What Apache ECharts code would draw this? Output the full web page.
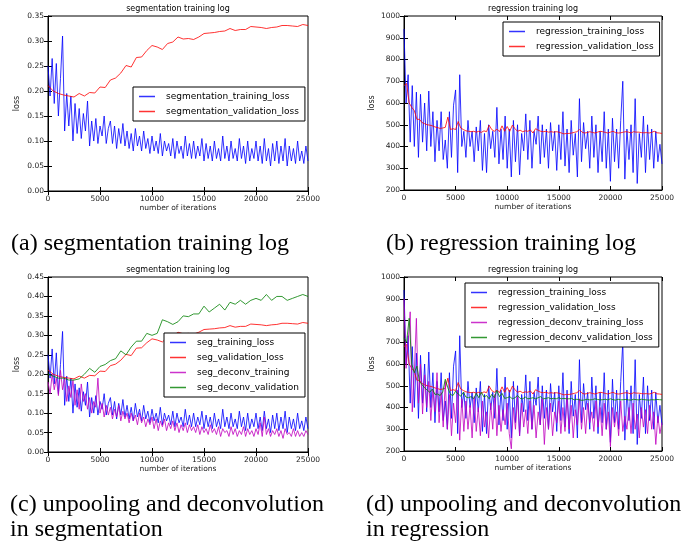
<!DOCTYPE html>
<html>
<head>
<meta charset="utf-8">
<script src="https://cdn.jsdelivr.net/npm/echarts@6/dist/echarts.min.js"></script>
<style>
  html, body { margin: 0; padding: 0; background: #fff; }
  #chart { width: 696px; height: 542px; }
</style>
</head>
<body>
<div id="chart"></div>
<script>
// sampled every 200 iterations
const trainStep = 200
// validation curves: seg every 500, regression every 250
const segValStep = 500
const regValStep = 250

const segTrain = [
  0.25, 0.19, 0.265, 0.175, 0.255, 0.15, 0.225, 0.31, 0.12, 0.195,
  0.13, 0.19, 0.10, 0.175, 0.115, 0.165, 0.105, 0.155, 0.12, 0.18,
  0.09, 0.14, 0.10, 0.145, 0.095, 0.13, 0.11, 0.15, 0.095, 0.125,
  0.14, 0.095, 0.13, 0.085, 0.125, 0.095, 0.135, 0.09, 0.12, 0.085,
  0.115, 0.08, 0.125, 0.09, 0.11, 0.08, 0.12, 0.085, 0.105, 0.075,
  0.11, 0.08, 0.10, 0.075, 0.115, 0.07, 0.10, 0.08, 0.095, 0.07,
  0.105, 0.065, 0.10, 0.075, 0.09, 0.065, 0.11, 0.07, 0.095, 0.065,
  0.10, 0.065, 0.09, 0.07, 0.105, 0.06, 0.095, 0.065, 0.09, 0.06,
  0.10, 0.065, 0.085, 0.06, 0.11, 0.065, 0.09, 0.06, 0.10, 0.065,
  0.085, 0.06, 0.105, 0.065, 0.09, 0.055, 0.10, 0.06, 0.085, 0.065,
  0.10, 0.06, 0.09, 0.055, 0.105, 0.06, 0.085, 0.05, 0.095, 0.06,
  0.10, 0.055, 0.09, 0.06, 0.105, 0.05, 0.09, 0.06, 0.085, 0.055,
  0.10, 0.06, 0.08, 0.055, 0.09, 0.06
]

const segVal = [
  0.211, 0.200, 0.195, 0.192, 0.190, 0.188, 0.195, 0.190, 0.197, 0.196,
  0.208, 0.207, 0.222, 0.226, 0.236, 0.251, 0.248, 0.267, 0.268, 0.281,
  0.291, 0.288, 0.283, 0.295, 0.298, 0.308, 0.304, 0.305, 0.303, 0.308,
  0.315, 0.316, 0.317, 0.319, 0.320, 0.325, 0.321, 0.323, 0.323, 0.329,
  0.328, 0.327, 0.325, 0.327, 0.328, 0.331, 0.331, 0.330, 0.329, 0.333,
  0.331
]

const segDeconvTrain = [
  0.18, 0.15, 0.20, 0.16, 0.19, 0.145, 0.21, 0.16, 0.19, 0.13,
  0.17, 0.14, 0.185, 0.12, 0.16, 0.11, 0.175, 0.13, 0.15, 0.11,
  0.14, 0.10, 0.13, 0.115, 0.19, 0.10, 0.125, 0.09, 0.12, 0.095,
  0.115, 0.085, 0.11, 0.09, 0.12, 0.08, 0.105, 0.085, 0.10, 0.075,
  0.10, 0.08, 0.095, 0.07, 0.10, 0.075, 0.09, 0.065, 0.085, 0.07,
  0.09, 0.06, 0.085, 0.055, 0.08, 0.065, 0.085, 0.055, 0.075, 0.06,
  0.08, 0.055, 0.075, 0.05, 0.07, 0.055, 0.075, 0.05, 0.07, 0.055,
  0.065, 0.05, 0.07, 0.045, 0.065, 0.05, 0.06, 0.045, 0.07, 0.05,
  0.06, 0.045, 0.065, 0.04, 0.06, 0.05, 0.055, 0.04, 0.065, 0.045,
  0.06, 0.04, 0.055, 0.045, 0.065, 0.04, 0.06, 0.045, 0.055, 0.04,
  0.06, 0.045, 0.075, 0.04, 0.09, 0.045, 0.06, 0.04, 0.055, 0.045,
  0.06, 0.04, 0.055, 0.035, 0.06, 0.045, 0.05, 0.04, 0.06, 0.04,
  0.055, 0.04, 0.05, 0.04, 0.055, 0.045
]

const segDeconvVal = [
  0.200, 0.195, 0.190, 0.190, 0.185, 0.185, 0.188, 0.200, 0.215, 0.205,
  0.220, 0.225, 0.235, 0.240, 0.260, 0.250, 0.270, 0.285, 0.285, 0.305,
  0.300, 0.305, 0.340, 0.335, 0.328, 0.335, 0.350, 0.348, 0.355, 0.355,
  0.375, 0.360, 0.370, 0.380, 0.365, 0.385, 0.380, 0.390, 0.380, 0.390,
  0.395, 0.390, 0.405, 0.390, 0.400, 0.400, 0.390, 0.395, 0.400, 0.405,
  0.400
]

const regTrain = [
  940, 600, 730, 420, 680, 400, 650, 350, 640, 420,
  600, 380, 655, 400, 560, 330, 520, 380, 560, 340,
  430, 300, 560, 350, 590, 660, 280, 730, 400, 470,
  350, 520, 400, 470, 330, 490, 380, 520, 290, 460,
  280, 500, 390, 470, 350, 580, 320, 480, 340, 540,
  300, 480, 260, 520, 330, 500, 270, 460, 380, 550,
  340, 520, 300, 470, 410, 540, 320, 500, 350, 480,
  300, 510, 380, 470, 290, 500, 340, 560, 310, 480,
  280, 520, 360, 460, 260, 620, 330, 510, 390, 470,
  300, 540, 350, 500, 280, 470, 330, 560, 300, 480,
  240, 530, 330, 480, 300, 520, 700, 250, 480, 340,
  500, 280, 620, 230, 460, 350, 540, 280, 500, 340,
  480, 300, 470, 330, 410, 320
]

const regVal = [
  680, 690, 600, 580, 565, 525, 525, 510, 505, 500,
  498, 495, 490, 487, 483, 485, 488, 535, 478, 482,
  478, 515, 485, 478, 472, 470, 468, 470, 466, 470,
  465, 472, 468, 498, 478, 470, 480, 468, 495, 470,
  492, 470, 498, 482, 470, 475, 468, 472, 470, 476,
  462, 482, 475, 470, 468, 470, 466, 468, 466, 468,
  466, 462, 458, 460, 460, 462, 465, 468, 478, 466,
  462, 464, 468, 465, 462, 466, 470, 468, 465, 462,
  466, 470, 464, 462, 463, 466, 468, 466, 462, 468,
  466, 466, 464, 463, 464, 462, 465, 470, 463, 462,
  460
]

const regDeconvTrain = [
  900, 580, 700, 840, 380, 560, 810, 420, 600, 370,
  550, 400, 520, 340, 480, 380, 560, 330, 470, 310,
  520, 300, 460, 270, 420, 330, 480, 250, 440, 290,
  430, 300, 410, 260, 450, 290, 400, 270, 430, 310,
  380, 260, 420, 300, 460, 270, 410, 290, 390, 320,
  420, 280, 210, 400, 300, 450, 270, 420, 310, 390,
  280, 430, 300, 410, 260, 380, 320, 440, 230, 400,
  300, 420, 270, 380, 330, 430, 280, 400, 290, 450,
  300, 410, 260, 390, 320, 440, 300, 400, 280, 420,
  330, 380, 290, 430, 310, 400, 270, 420, 300, 380,
  220, 400, 310, 380, 270, 430, 290, 360, 300, 400,
  280, 420, 300, 370, 260, 400, 310, 390, 280, 410,
  300, 380, 230, 360, 280, 330
]

const regDeconvVal = [
  720, 700, 810, 600, 560, 590, 520, 505, 490, 480,
  470, 485, 460, 462, 455, 470, 530, 490, 460, 455,
  475, 462, 452, 470, 448, 445, 450, 440, 465, 445,
  470, 448, 455, 440, 460, 445, 478, 450, 465, 442,
  445, 450, 440, 445, 455, 442, 440, 448, 440, 442,
  445, 440, 445, 450, 440, 442, 445, 440, 442, 440,
  445, 440, 442, 440, 440, 442, 435, 438, 435, 433,
  435, 438, 435, 436, 440, 437, 435, 436, 438, 435,
  440, 436, 434, 438, 435, 436, 437, 435, 434, 438,
  436, 435, 438, 436, 435, 434, 436, 435, 437, 436,
  435
]

const panels = [
  { title: 'segmentation training log', left: 48, top: 16, width: 260, height: 175, yMin: 0, yMax: 0.35, yInt: 0.05, dec: 2 },
  { title: 'regression training log', left: 404, top: 16, width: 258, height: 174, yMin: 200, yMax: 1000, yInt: 100, dec: 0 },
  { title: 'segmentation training log', left: 48, top: 277, width: 260, height: 175, yMin: 0, yMax: 0.45, yInt: 0.05, dec: 2 },
  { title: 'regression training log', left: 404, top: 277, width: 258, height: 174, yMin: 200, yMax: 1000, yInt: 100, dec: 0 },
]

const BLUE = 'rgba(0,0,255,0.8)'
const RED = 'rgba(255,0,0,0.8)'
const MAGENTA = 'rgba(191,0,191,0.8)'
const GREEN = 'rgba(0,128,0,0.8)'

const tickFont = 'DejaVu Sans'

function pairs(values, step) {
  return values.map((v, i) => [i * step, v])
}

const grid = []
const xAxis = []
const yAxis = []
const graphic = []

panels.forEach((p, g) => {
  grid.push({
    left: p.left, top: p.top, width: p.width, height: p.height,
    show: true, borderColor: '#000', borderWidth: 1, backgroundColor: '#fff'
  })
  const tick = { show: true, inside: true, length: 4, lineStyle: { color: '#000', width: 1 } }
  xAxis.push({
    type: 'value', gridIndex: g, min: 0, max: 25000, interval: 5000,
    name: 'number of iterations', nameLocation: 'middle', nameGap: 13,
    nameTextStyle: { fontFamily: tickFont, fontSize: 7.5, color: '#222' },
    axisLine: { show: true, onZero: false, lineStyle: { color: '#000', width: 1 } },
    axisTick: tick, splitLine: { show: false },
    axisLabel: { fontFamily: tickFont, fontSize: 7.5, color: '#222', margin: 4, formatter: v => String(v) }
  })
  xAxis.push({
    type: 'value', gridIndex: g, position: 'top', min: 0, max: 25000, interval: 5000,
    axisLine: { show: false }, axisTick: tick, splitLine: { show: false },
    axisLabel: { show: false }
  })
  yAxis.push({
    type: 'value', gridIndex: g, min: p.yMin, max: p.yMax, interval: p.yInt,
    name: 'loss', nameLocation: 'middle', nameGap: p.dec ? 27 : 28,
    nameTextStyle: { fontFamily: tickFont, fontSize: 8, color: '#222' },
    axisLine: { show: true, onZero: false, lineStyle: { color: '#000', width: 1 } },
    axisTick: tick, splitLine: { show: false },
    axisLabel: {
      fontFamily: tickFont, fontSize: 7.5, color: '#222', margin: 4,
      formatter: v => v.toFixed(p.dec)
    }
  })
  yAxis.push({
    type: 'value', gridIndex: g, position: 'right', min: p.yMin, max: p.yMax, interval: p.yInt,
    axisLine: { show: false }, axisTick: tick, splitLine: { show: false },
    axisLabel: { show: false }
  })
  graphic.push({
    type: 'text', x: p.left + p.width / 2, y: p.top - 7,
    style: {
      text: p.title, fill: '#000', font: '8px "DejaVu Sans"',
      textAlign: 'center', textVerticalAlign: 'middle'
    }
  })
})

function line(name, g, values, step, color) {
  return {
    name, type: 'line', xAxisIndex: 2 * g, yAxisIndex: 2 * g,
    data: pairs(values, step), showSymbol: false, symbol: 'none',
    lineStyle: { color, width: 1 }, itemStyle: { color },
    emphasis: { disabled: true }
  }
}

const series = [
  line('segmentation_training_loss', 0, segTrain, trainStep, BLUE),
  line('segmentation_validation_loss', 0, segVal, segValStep, RED),
  line('regression_training_loss', 1, regTrain, trainStep, BLUE),
  line('regression_validation_loss', 1, regVal, regValStep, RED),
  line('seg_training_loss', 2, segTrain, trainStep, BLUE),
  line('seg_validation_loss', 2, segVal, segValStep, RED),
  line('seg_deconv_training', 2, segDeconvTrain, trainStep, MAGENTA),
  line('seg_deconv_validation', 2, segDeconvVal, segValStep, GREEN),
  line('regression_training_loss', 3, regTrain, trainStep, BLUE),
  line('regression_validation_loss', 3, regVal, regValStep, RED),
  line('regression_deconv_training_loss', 3, regDeconvTrain, trainStep, MAGENTA),
  line('regression_deconv_validation_loss', 3, regDeconvVal, regValStep, GREEN),
]

function legend(names, left, top) {
  return {
    data: names, orient: 'vertical', left, top,
    backgroundColor: '#fff', borderColor: '#000', borderWidth: 1,
    padding: [4, 6, 4, 6], itemGap: 4, itemWidth: 16, itemHeight: 1.5,
    icon: 'rect', selectedMode: false,
    textStyle: { fontFamily: tickFont, fontSize: 9, lineHeight: 11, color: '#000', padding: [0, 0, 0, 6] }
  }
}

const legends = [
  legend(['segmentation_training_loss', 'segmentation_validation_loss'], 133, 87),
  legend(['regression_training_loss', 'regression_validation_loss'], 503, 22),
  legend(['seg_training_loss', 'seg_validation_loss', 'seg_deconv_training', 'seg_deconv_validation'], 164, 333),
  legend(['regression_training_loss', 'regression_validation_loss', 'regression_deconv_training_loss', 'regression_deconv_validation_loss'], 465, 283),
]

// captions under the sub-figures
const captions = [
  { text: '(a) segmentation training log', x: 11, y: 231 },
  { text: '(b) regression training log', x: 386, y: 231 },
  { text: '(c) unpooling and deconvolution\nin segmentation', x: 10, y: 492 },
  { text: '(d) unpooling and deconvolution\nin regression', x: 366, y: 492 },
]
captions.forEach(c => {
  graphic.push({
    type: 'text', x: c.x, y: c.y,
    style: { text: c.text, fill: '#000', font: '24px "Liberation Serif"', lineHeight: 25 }
  })
})

const myChart = echarts.init(document.getElementById('chart'))
myChart.setOption({
  animation: false,
  backgroundColor: '#fff',
  grid, xAxis, yAxis, series,
  legend: legends,
  graphic
})
</script>
</body>
</html>
